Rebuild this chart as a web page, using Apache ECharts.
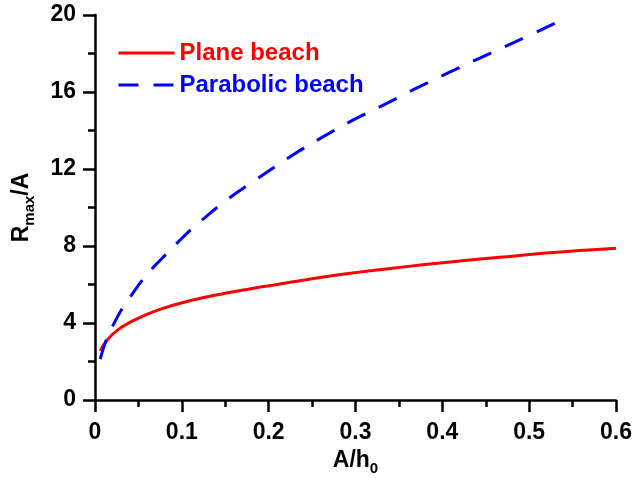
<!DOCTYPE html>
<html>
<head>
<meta charset="utf-8">
<script src="https://cdn.jsdelivr.net/npm/echarts@6/dist/echarts.min.js"></script>
<style>
  html, body { margin: 0; padding: 0; background: #fff; }
  #chart { width: 635px; height: 483px; }
</style>
</head>
<body>
<div id="chart"></div>
<script>
// Maximum run-up over wave amplitude versus relative amplitude A/h0
const planeX = [0.006, 0.014, 0.027, 0.047, 0.073, 0.11, 0.15, 0.178, 0.236, 0.294, 0.351, 0.409, 0.466, 0.524, 0.6];
const planeY = [2.55, 3.12, 3.67, 4.19, 4.68, 5.17, 5.55, 5.77, 6.20, 6.58, 6.89, 7.17, 7.41, 7.65, 7.88];

const parabolicX = [0.006, 0.0127, 0.021, 0.0315, 0.042, 0.0545, 0.067, 0.083, 0.096, 0.111, 0.127, 0.142, 0.159, 0.177, 0.2265, 0.263, 0.2975, 0.336, 0.372, 0.409, 0.445, 0.484, 0.542];
const parabolicY = [2.13, 3.08, 3.90, 4.76, 5.45, 6.23, 6.89, 7.62, 8.22, 8.88, 9.49, 10.05, 10.64, 11.19, 12.69, 13.68, 14.55, 15.41, 16.24, 17.04, 17.80, 18.60, 19.84];

const seriesNames = ['Plane beach', 'Parabolic beach'];
const xTicks = { min: 0, max: 0.6, step: 0.1 };
const yTicks = { min: 0, max: 20, step: 4 };

const FONT = '"Liberation Sans", Arial, sans-serif';
const pairs = (xs, ys) => xs.map((x, i) => [x, ys[i]]);

const axisCommon = {
  axisLine: { show: true, lineStyle: { color: '#000', width: 2.5 } },
  axisTick: { show: true, inside: false, length: 12, lineStyle: { color: '#000', width: 2.5 } },
  minorTick: { show: true, splitNumber: 2, length: 7, lineStyle: { color: '#000', width: 2.5 } },
  splitLine: { show: false },
  axisLabel: { color: '#000', fontFamily: FONT, fontWeight: 'bold', fontSize: 23 }
};

const nameRich = {
  m: { fontFamily: FONT, fontWeight: 'bold', fontSize: 23, color: '#000', lineHeight: 30, verticalAlign: 'middle' },
  s: { fontFamily: FONT, fontWeight: 'bold', fontSize: 15, color: '#000', lineHeight: 15, verticalAlign: 'bottom' }
};

const chart = echarts.init(document.getElementById('chart'), null, { renderer: 'canvas' });
chart.setOption({
  animation: false,
  backgroundColor: '#fff',
  grid: { left: 95, right: 19, top: 15, bottom: 83, containLabel: false },
  legend: {
    orient: 'vertical',
    left: 117,
    top: 41,
    padding: 0,
    itemWidth: 56,
    itemHeight: 20,
    itemGap: 8,
    itemStyle: { opacity: 0, borderWidth: 0 },
    lineStyle: { width: 3 },
    textStyle: { fontFamily: FONT, fontWeight: 'bold', fontSize: 24 },
    data: [
      { name: seriesNames[0], textStyle: { color: '#ff0000' } },
      { name: seriesNames[1], textStyle: { color: '#0000ff' } }
    ]
  },
  xAxis: Object.assign({}, axisCommon, {
    type: 'value',
    min: xTicks.min,
    max: xTicks.max,
    interval: xTicks.step,
    name: '{m|A/h}{s|0}',
    nameLocation: 'middle',
    nameGap: 46,
    nameTextStyle: { rich: nameRich },
    axisLabel: Object.assign({}, axisCommon.axisLabel, { margin: 21 })
  }),
  yAxis: Object.assign({}, axisCommon, {
    type: 'value',
    min: yTicks.min,
    max: yTicks.max,
    interval: yTicks.step,
    name: '{m|R}{s|max}{m|/A}',
    nameLocation: 'middle',
    nameRotate: 90,
    nameGap: 58,
    nameTextStyle: { rich: nameRich },
    axisLabel: Object.assign({}, axisCommon.axisLabel, { margin: 19 })
  }),
  series: [
    {
      name: seriesNames[0],
      type: 'line',
      data: pairs(planeX, planeY),
      smooth: 0.4,
      symbol: 'none',
      color: '#ff0000',
      lineStyle: { color: '#ff0000', width: 3 }
    },
    {
      name: seriesNames[1],
      type: 'line',
      data: pairs(parabolicX, parabolicY),
      smooth: 0.4,
      symbol: 'none',
      color: '#0000ff',
      lineStyle: { color: '#0000ff', width: 3, type: [20, 15], cap: 'butt' }
    }
  ]
});
</script>
</body>
</html>
